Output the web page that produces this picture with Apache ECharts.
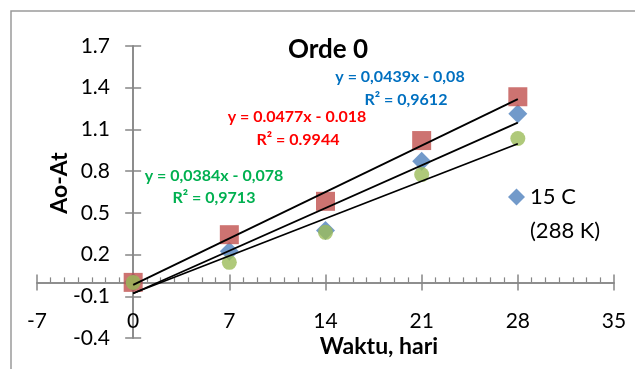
<!DOCTYPE html>
<html>
<head>
<meta charset="utf-8">
<script src="https://cdn.jsdelivr.net/npm/echarts@6/dist/echarts.min.js"></script>
<style>
  html, body { margin: 0; padding: 0; background: #fff; }
  #chart { width: 635px; height: 369px; }
</style>
</head>
<body>
<div id="chart"></div>
<script>
// Measurement days
const days = [0, 7, 14, 21, 28];

// Ao-At readings per series
const blue15C = [0, 0.223, 0.374, 0.871, 1.212];
const redVals = [0, 0.343, 0.583, 1.020, 1.335];
const greenVals = [0, 0.144, 0.360, 0.775, 1.035];

// Linear trendlines (slope, intercept) as printed on the chart
const trendSlopes = [0.0439, 0.0477, 0.0384];
const trendIntercepts = [-0.08, -0.018, -0.078];
const trendRange = [0, 28];

// Equation / R² labels
const eqTexts = ['y = 0,0439x - 0,08', 'y = 0.0477x - 0.018', 'y = 0,0384x - 0,078'];
const r2Texts = ['R² = 0,9612', 'R² = 0.9944', 'R² = 0,9713'];

const legendName = '15 C (288 K)';
const legendLines = ['15 C', '(288 K)'];
const FONT = 'Lato, "Open Sans", sans-serif';
const AXIS_GRAY = '#868686';

const pairs = (xs, ys) => xs.map((x, i) => [x, ys[i]]);
const trendLine = (k) => trendRange.map(x => [x, trendSlopes[k] * x + trendIntercepts[k]]);

const chart = echarts.init(document.getElementById('chart'), null, { renderer: 'canvas' });

const xBase = { type: 'value', min: -7, max: 35, interval: 7, splitLine: { show: false } };
const yBase = { type: 'value', min: -0.4, max: 1.7, interval: 0.3, splitLine: { show: false } };
const axisLineStyle = { color: AXIS_GRAY, width: 1.5 };

const label = (text, x, y, size, color, extra) => ({
  type: 'text', x, y, silent: true,
  style: Object.assign({
    text, fontFamily: FONT, fontWeight: 'bold', fontSize: size, fill: color,
    align: 'center', verticalAlign: 'middle'
  }, extra || {})
});

chart.setOption({
  animation: false,
  backgroundColor: '#ffffff',
  grid: { left: 37, right: 21, top: 46, bottom: 31, containLabel: false, outerBoundsMode: 'none' },
  legend: {
    data: [{ name: legendName, icon: 'diamond' }],
    left: 503, top: 141,
    itemWidth: 17, itemHeight: 17,
    formatter: () => ' \n' + legendLines.join('\n'),
    textStyle: { fontFamily: FONT, fontSize: 22, color: '#000', lineHeight: 34 }
  },
  xAxis: [
    Object.assign({}, xBase, {
      position: 'bottom',
      axisLine: { onZero: true, lineStyle: axisLineStyle },
      axisTick: { show: true, length: 8, lineStyle: axisLineStyle },
      // labels sit low, just under the zero line
      axisLabel: { margin: -27, fontFamily: FONT, fontSize: 21, color: '#000' }
    }),
    Object.assign({}, xBase, {
      position: 'top',
      axisLine: { onZero: true, lineStyle: axisLineStyle },
      axisTick: { show: true, length: 8, lineStyle: axisLineStyle },
      minorTick: { show: true, splitNumber: 7, length: 5, lineStyle: { color: AXIS_GRAY, width: 1.2 } },
      axisLabel: { show: false }
    })
  ],
  yAxis: [
    Object.assign({}, yBase, {
      position: 'left',
      axisLine: { onZero: true, lineStyle: axisLineStyle },
      axisTick: { show: true, length: 8, lineStyle: axisLineStyle },
      axisLabel: {
        margin: -73, fontFamily: FONT, fontSize: 21, color: '#000',
        formatter: v => (Math.round(v * 10) / 10).toFixed(1)
      }
    }),
    Object.assign({}, yBase, {
      position: 'right',
      axisLine: { onZero: true, lineStyle: axisLineStyle },
      axisTick: { show: true, length: 8, lineStyle: axisLineStyle },
      axisLabel: { show: false }
    })
  ],
  graphic: [
    // chart frame
    { type: 'rect', silent: true, z: 0, shape: { x: 11, y: 11, width: 700, height: 500 }, style: { fill: 'none', stroke: '#9a9a9a', lineWidth: 1.5 } },
    // chart and axis titles
    label('Orde 0', 328, 50, 26, '#000'),
    label('Waktu, hari', 379, 347, 23, '#000'),
    Object.assign(label('Ao-At', 60, 183, 23, '#000'), { rotation: Math.PI / 2 }),
    // trendline equations
    label(eqTexts[0], 400, 77, 16, '#0070C0'),
    label(r2Texts[0], 406, 100, 16, '#0070C0'),
    label(eqTexts[1], 297, 117, 16, '#FF0000'),
    label(r2Texts[1], 298, 140, 16, '#FF0000'),
    label(eqTexts[2], 214, 176, 16, '#00B050'),
    label(r2Texts[2], 214, 198, 16, '#00B050')
  ],
  series: [
    { name: legendName, type: 'scatter', data: pairs(days, blue15C), symbol: 'diamond', symbolSize: 19, itemStyle: { color: '#4F81BD' }, z: 2 },
    { name: 'red', type: 'scatter', data: pairs(days, redVals), symbol: 'rect', symbolSize: 19, itemStyle: { color: '#C0504D' }, z: 3 },
    { name: 'green', type: 'scatter', data: pairs(days, greenVals), symbol: 'circle', symbolSize: 15, itemStyle: { color: '#9BBB59' }, z: 4 },
    { name: 'trend blue', type: 'line', data: trendLine(0), showSymbol: false, lineStyle: { color: '#000', width: 1.8 }, z: 5 },
    { name: 'trend red', type: 'line', data: trendLine(1), showSymbol: false, lineStyle: { color: '#000', width: 1.8 }, z: 5 },
    { name: 'trend green', type: 'line', data: trendLine(2), showSymbol: false, lineStyle: { color: '#000', width: 1.8 }, z: 5 }
  ]
});
</script>
</body>
</html>
